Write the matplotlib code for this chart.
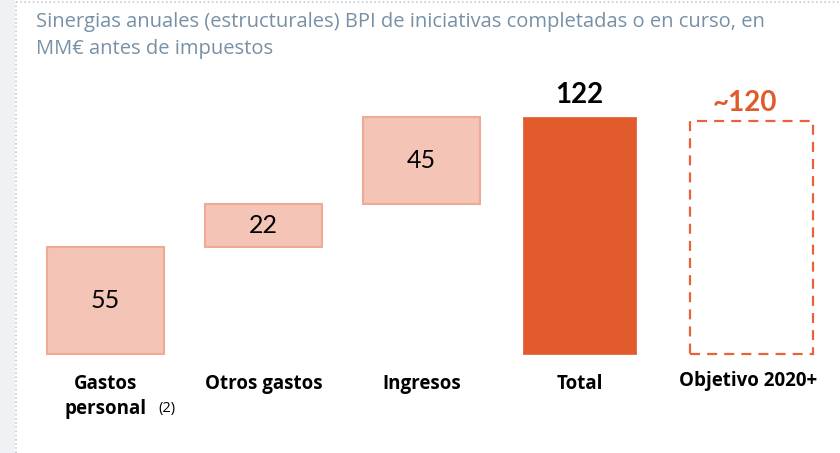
import numpy as np
import matplotlib
matplotlib.use("Agg")
from matplotlib import pyplot as plt
from matplotlib.patches import Rectangle
from matplotlib.lines import Line2D

# data
categories = ["Gastos\npersonal", "Otros gastos", "Ingresos", "Total", "Objetivo 2020+"]
steps = [55, 22, 45]
total = 122
target = 120
step_labels = ["55", "22", "45"]
total_label = "122"
target_label = "~120"
title = ("Sinergias anuales (estructurales) BPI de iniciativas completadas o en curso, en\n"
         "MM€ antes de impuestos")

# layout
xpos = [0, 1, 2, 3, 4.09]
widths = [0.735, 0.735, 0.735, 0.72, 0.78]
light = "#f4c4b6"
light_edge = "#eeaa95"
orange = "#e05a2b"
title_col = "#7790a6"

fig = plt.figure(figsize=(8.4, 4.53), dpi=100)
fig.patch.set_facecolor("white")
ax = fig.add_axes([0, 0, 1, 1])
ax.set_xlim(-0.668, 4.649)
ax.set_ylim(-50.9, 182.0)
ax.axis("off")

# waterfall steps
bottoms = np.concatenate([[0], np.cumsum(steps)[:-1]])
ax.bar(xpos[:3], steps, bottom=bottoms, width=widths[:3], color=light,
       edgecolor=light_edge, linewidth=1.5, zorder=2)
for x, b, v, lab in zip(xpos[:3], bottoms, steps, step_labels):
  ax.text(x, b + v/2, lab, ha="center", va="center", fontsize=18,
          family="Lato", color="black", zorder=3)

# total
ax.bar(xpos[3], total, width=widths[3], color=orange, edgecolor=orange,
       linewidth=0.5, zorder=2)
ax.text(xpos[3], total + 4.5, total_label, ha="center", va="bottom", fontsize=20,
        family="Lato", fontweight="bold", color="black")

# target (dashed outline)
ax.bar(xpos[4], target, width=widths[4], color="none", edgecolor="#e8633a",
       linewidth=1.6, linestyle=(0, (4.5, 3.2)), zorder=2)
ax.text(xpos[4] - 0.04, target + 2.5, target_label, ha="center", va="bottom",
        fontsize=20, family="Lato", fontweight="bold", color=orange)

# category labels
for i, (x, lab) in enumerate(zip(xpos, categories)):
  y = -10.5 if i < 4 else -8.5
  ax.text(x - (0.02 if i == 4 else 0), y, lab, ha="center", va="top",
          fontsize=13.5, family="Open Sans", fontweight="bold", color="black",
          linespacing=1.3)
ax.text(0.335, -28.2, "(2)", ha="left", va="center", fontsize=10.5,
        family="Open Sans", color="black")

# title
fig.text(36/840, 1 - 12/453, title, ha="left", va="top", fontsize=14.5,
         family="Open Sans", color=title_col, linespacing=1.45)

# frame decoration
fig.patches.append(Rectangle((0, 0), 15/840, 1, transform=fig.transFigure,
                             facecolor="#eef2f4", edgecolor="none", zorder=0))
fig.lines.append(Line2D([16/840, 16/840], [0, 1 - 2/453], transform=fig.transFigure,
                        color="#c4cbd0", linewidth=1.2, linestyle=(0, (1, 1.5))))
fig.lines.append(Line2D([16/840, 1], [1 - 2/453, 1 - 2/453], transform=fig.transFigure,
                        color="#c4cbd0", linewidth=1.2, linestyle=(0, (1, 1.5))))

fig.savefig("out.png", dpi=100, facecolor="white")
